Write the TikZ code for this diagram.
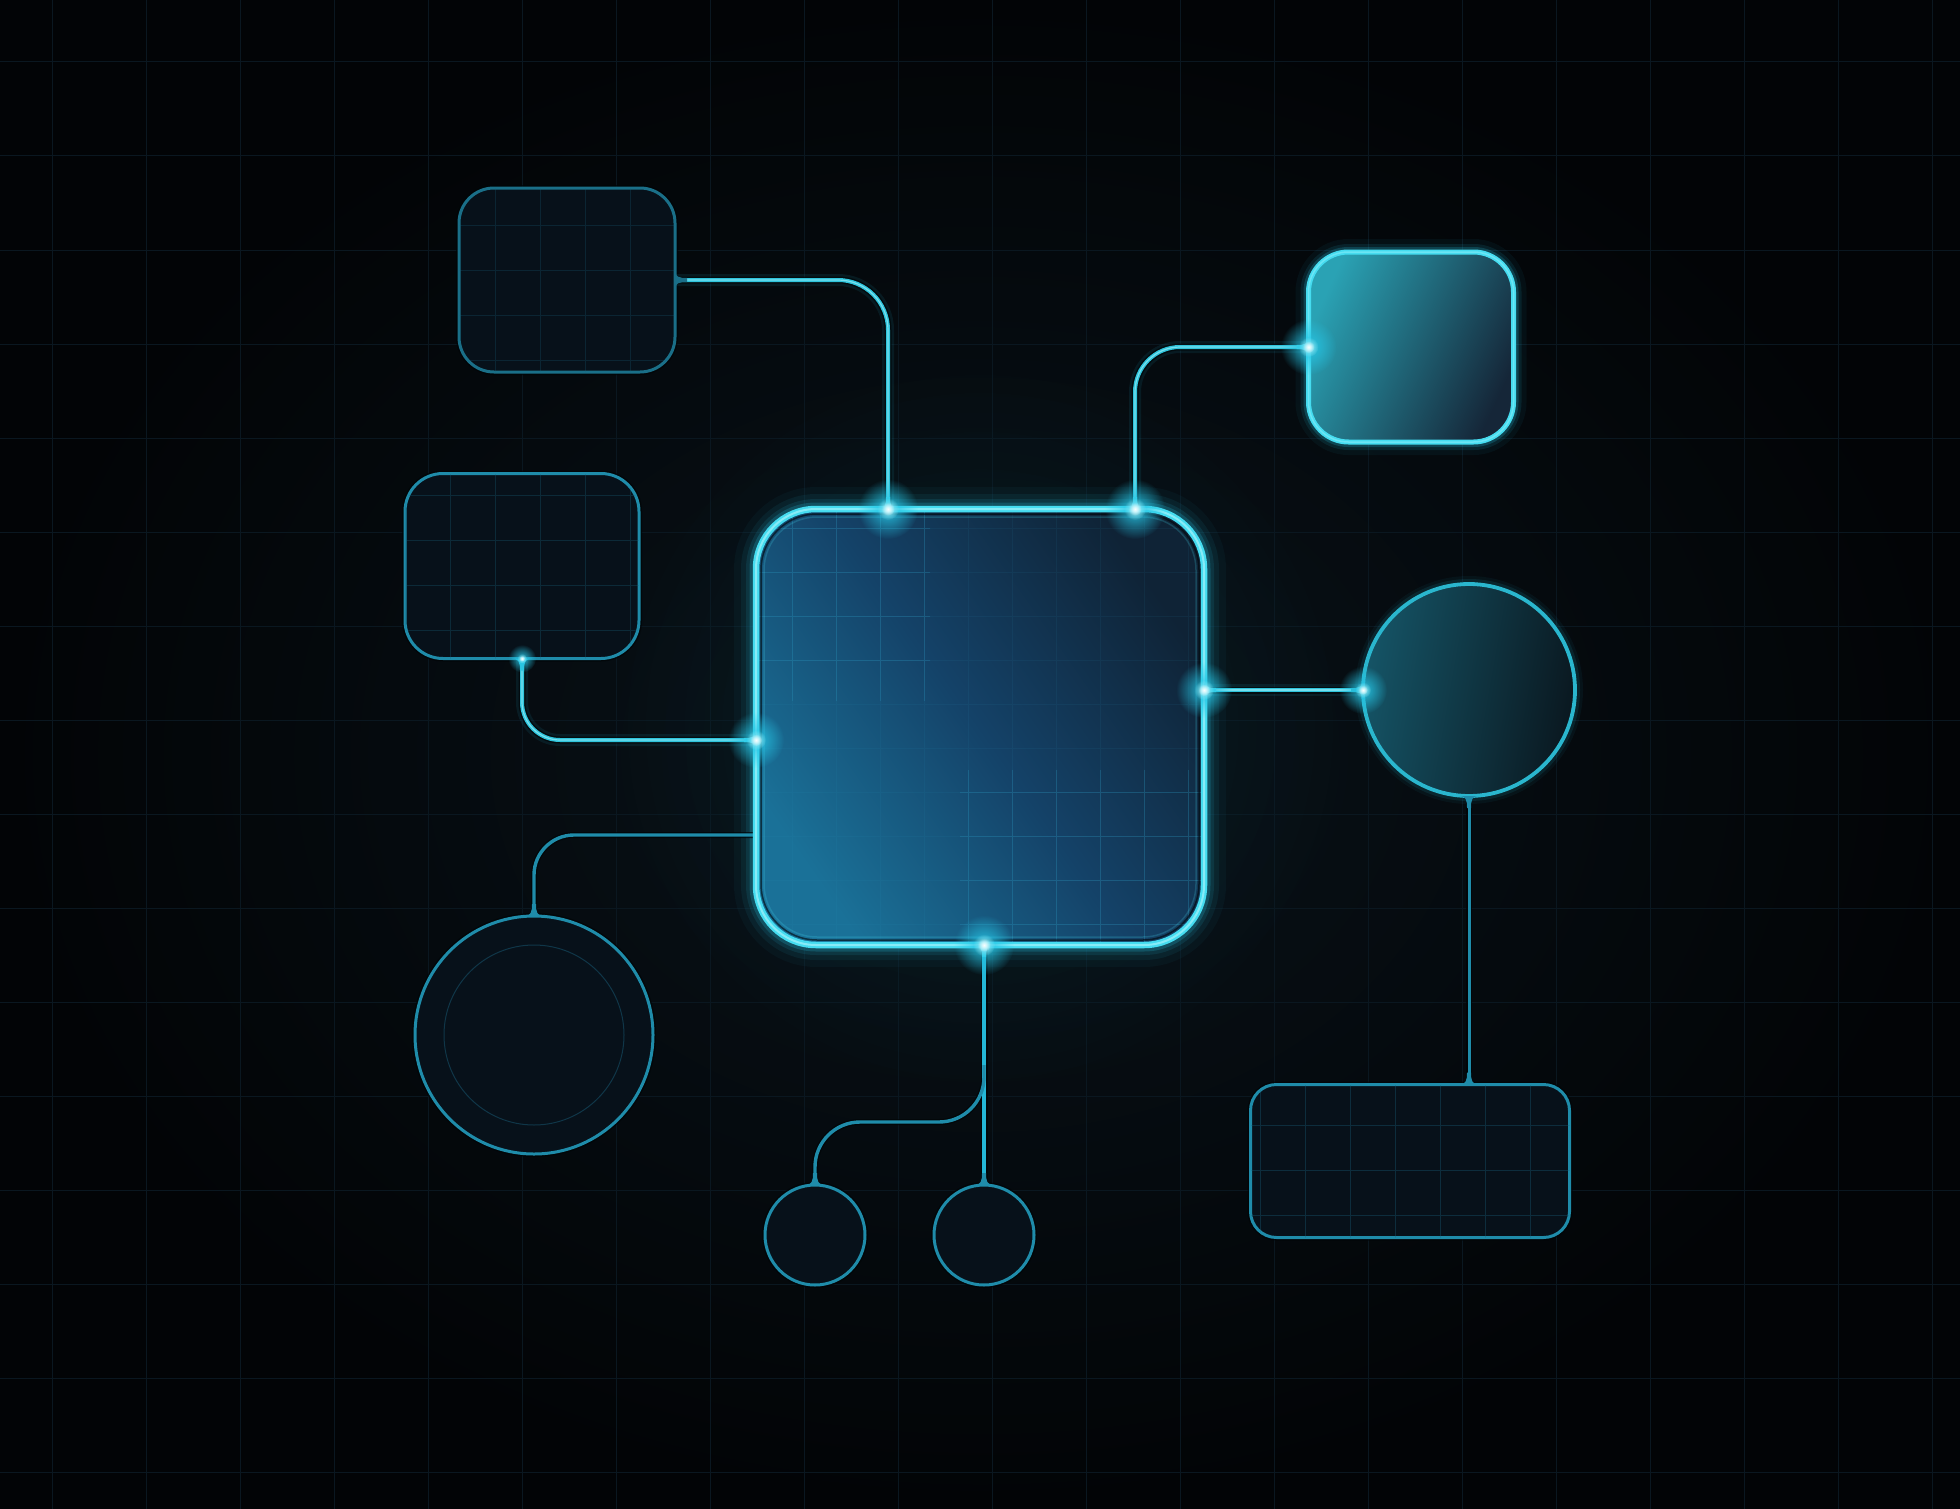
\documentclass[tikz,border=0pt]{standalone}
\usetikzlibrary{fadings,calc}
\tikzfading[name=glowfade, inner color=transparent!0, outer color=transparent!100]
\pgfdeclarelayer{back}
\pgfdeclarelayer{lines}
\pgfdeclarelayer{front}
\pgfsetlayers{back,lines,main,front}
\definecolor{bgout}{HTML}{020406}
\definecolor{bgin}{HTML}{09131A}
\definecolor{gridc}{HTML}{0A1720}
\definecolor{glowc}{HTML}{26C6E6}
\definecolor{brite}{HTML}{45DCF0}
\definecolor{core}{HTML}{B4F6FC}
\definecolor{conn}{HTML}{2EC4DC}
\definecolor{dimb}{HTML}{1A6F88}
\definecolor{midb}{HTML}{1F8CAA}
\definecolor{outl}{HTML}{010507}
\definecolor{boxfill}{HTML}{07111A}
\definecolor{igrid}{HTML}{1A6480}
\definecolor{cgrid}{HTML}{2E9CC4}
\definecolor{cdark}{HTML}{0F2336}
\definecolor{cmid}{HTML}{144268}
\definecolor{clight}{HTML}{1A7198}
\definecolor{tlight}{HTML}{2AA2B4}
\definecolor{tdark}{HTML}{152638}
\definecolor{rlight}{HTML}{155466}
\definecolor{rdark}{HTML}{0A1820}
\definecolor{rborder}{HTML}{2AB6CE}
\tikzset{
  shapebase/.style={inner sep=0pt, outer sep=0pt},
  dimbox/.style={shapebase, rectangle, draw=midb, line width=3pt, fill=boxfill},
  dimcirc/.style={shapebase, circle, draw=midb, line width=3pt, fill=boxfill},
  conline/.style={conn, line width=4pt},
  concore/.style={core, line width=1.2pt, opacity=0.55},
  outline/.style={outl, line width=7pt, opacity=0.7},
  farline/.style={midb, line width=3pt},
  lineglow/.style={glowc, line width=12pt, opacity=0.09},
}
\newcommand{\jflare}[3]{%
  \begin{scope}[shift={(#1)}, rotate=#2]
    \fill[#3] (-10,0) .. controls (-3,0) and (-2,-4) .. (-2,-12) -- (2,-12) .. controls (2,-4) and (3,0) .. (10,0) -- cycle;
  \end{scope}}
\newcommand{\jglow}[3]{%
  \fill[glowc, path fading=glowfade, opacity=0.95] (#1) circle (#2pt);
  \fill[core, path fading=glowfade, opacity=0.9] (#1) circle (#3pt);
  \fill[white, path fading=glowfade, opacity=0.9] (#1) circle (#3pt*0.6);}
\begin{document}
\begin{tikzpicture}[x=1pt,y=-1pt]
\useasboundingbox (0,0) rectangle (1960,1509);

% ---------- nodes ----------
\node[shapebase, rectangle, rounded corners=60pt, minimum width=448pt, minimum height=436pt,
      top color=cdark, bottom color=clight, middle color=cmid, shading angle=-55] (c) at (980,727) {};
\node[dimbox, draw=dimb, rounded corners=35pt, minimum width=216pt, minimum height=184pt] (tl) at (567,280) {};
\node[shapebase, rectangle, rounded corners=40pt, minimum width=205pt, minimum height=190pt,
      top color=tdark, bottom color=tlight, shading angle=-115] (tr) at (1411,347) {};
\node[dimbox, rounded corners=38pt, minimum width=234pt, minimum height=185pt] (ml) at (522,566) {};
\node[shapebase, circle, minimum size=212pt, top color=rdark, bottom color=rlight, shading angle=-100] (r) at (1469,690) {};
\node[dimcirc, minimum size=238pt] (bl) at (534,1035) {};
\node[dimcirc, minimum size=100pt] (s1) at (815,1235) {};
\node[dimcirc, minimum size=100pt] (s2) at (984,1235) {};
\node[dimbox, rounded corners=26pt, minimum width=319pt, minimum height=153pt] (br) at (1410,1161) {};

% ---------- background ----------
\begin{pgfonlayer}{back}
  \shade[inner color=bgin, outer color=bgout] (0,0) rectangle (1960,1509);
  \begin{scope}[shift={(52,62)}]
    \draw[gridc, line width=1pt, step=94pt] (-52,-62) grid (1908,1447);
  \end{scope}
  \fill[glowc, opacity=0.08, path fading=glowfade] (c) circle (380pt);
  \foreach \w/\o in {44/0.04,30/0.07,20/0.11,13/0.2}
    \draw[glowc, line width=\w pt, opacity=\o, rounded corners=60pt] (c.north west) rectangle (c.south east);
  \foreach \w/\o in {26/0.05,16/0.10,10/0.2}
    \draw[glowc, line width=\w pt, opacity=\o, rounded corners=40pt] (tr.north west) rectangle (tr.south east);
  \foreach \w/\o in {16/0.05,10/0.1}
    \draw[glowc, line width=\w pt, opacity=\o] (r) circle (106pt);
  \foreach \n/\rc in {tl/35, ml/38, br/26}
    \draw[outl, line width=6pt, opacity=0.7, rounded corners=\rc pt] (\n.north west) rectangle (\n.south east);
  \foreach \n/\rr in {bl/119, s1/50, s2/50}
    \draw[outl, line width=6pt, opacity=0.7] (\n) circle (\rr pt);
\end{pgfonlayer}

% ---------- inner grids ----------
\begin{scope}
  \clip[rounded corners=60pt] (c.north west) rectangle (c.south east);
  \draw[cgrid, opacity=0.08, line width=1pt, step=44pt] (c.north west) grid (c.south east);
  \begin{scope}
    \clip (756,509) rectangle (930,700);
    \draw[cgrid, opacity=0.25, line width=1pt, step=44pt] (c.north west) grid (c.south east);
  \end{scope}
  \begin{scope}
    \clip (960,770) rectangle (1204,945);
    \draw[cgrid, opacity=0.25, line width=1pt, step=44pt] (c.north west) grid (c.south east);
  \end{scope}
\end{scope}
\foreach \n/\rc/\op in {tl/35/0.25, ml/38/0.3, br/26/0.35} {
  \begin{scope}
    \clip[rounded corners=\rc pt] (\n.north west) rectangle (\n.south east);
    \draw[igrid, opacity=\op, line width=0.9pt, step=45pt] (\n.north west) grid (\n.south east);
  \end{scope}
}
\draw[igrid, opacity=0.45, line width=1pt] (bl) circle (90pt);

% ---------- borders ----------
\draw[outl, opacity=0.6, line width=1.5pt, rounded corners=56pt] ($(c.north west)+(5,5)$) rectangle ($(c.south east)+(-5,-5)$);
\draw[brite, line width=6.5pt, rounded corners=60pt] (c.north west) rectangle (c.south east);
\draw[core, opacity=0.6, line width=2pt, rounded corners=60pt] (c.north west) rectangle (c.south east);
\draw[brite, opacity=0.2, line width=1.5pt, rounded corners=53pt] ($(c.north west)+(8,8)$) rectangle ($(c.south east)+(-8,-8)$);
\draw[brite, line width=5pt, rounded corners=40pt] (tr.north west) rectangle (tr.south east);
\draw[core, opacity=0.35, line width=1.5pt, rounded corners=40pt] (tr.north west) rectangle (tr.south east);
\draw[rborder, line width=3.8pt] (r) circle (106pt);

% ---------- connectors ----------
\begin{pgfonlayer}{lines}
  \draw[lineglow, rounded corners=50pt] ($(c.north west)+(132,0)$) |- (tl.east);
  \draw[lineglow, rounded corners=45pt] ($(c.north west)+(379,0)$) |- (tr.west);
  \draw[lineglow] ($(c.north east)+(0,181)$) -- (r.west);
  \draw[lineglow, rounded corners=38pt] ($(c.north west)+(0,231)$) -| (ml.south);

  \draw[outline, rounded corners=50pt] ($(c.north west)+(132,0)$) |- (tl.east);
  \draw[outline, rounded corners=45pt] ($(c.north west)+(379,0)$) |- (tr.west);
  \draw[outline] ($(c.north east)+(0,181)$) -- (r.west);
  \draw[outline, rounded corners=38pt] ($(c.north west)+(0,231)$) -| (ml.south);
  \draw[outline, line width=6pt, rounded corners=40pt] ($(c.north west)+(0,326)$) -| (bl.north);
  \draw[outline] ($(c.south west)+(228,0)$) -- (s2.north);
  \draw[outline, line width=6pt, rounded corners=45pt] ($(c.south west)+(228,120)$) |- ($(s1.north)+(0,-63)$) -- (s1.north);
  \draw[outline, line width=6pt] (r.south) -- (r.south |- br.north);

  \draw[conline, rounded corners=50pt] ($(c.north west)+(132,0)$) |- (tl.east);
  \draw[conline, rounded corners=45pt] ($(c.north west)+(379,0)$) |- (tr.west);
  \draw[conline] ($(c.north east)+(0,181)$) -- (r.west);
  \draw[conline, rounded corners=38pt] ($(c.north west)+(0,231)$) -| (ml.south);
  \draw[farline, line width=3.4pt, rounded corners=40pt] ($(c.north west)+(0,326)$) -| (bl.north);
  \draw[conline, line width=3.6pt, color=glowc!75!midb] ($(c.south west)+(228,0)$) -- (s2.north);
  \draw[farline, line width=3.4pt, rounded corners=45pt] ($(c.south west)+(228,120)$) |- ($(s1.north)+(0,-63)$) -- (s1.north);
  \draw[farline] (r.south) -- (r.south |- br.north);

  \draw[concore, rounded corners=50pt] ($(c.north west)+(132,0)$) |- (tl.east);
  \draw[concore, rounded corners=45pt] ($(c.north west)+(379,0)$) |- (tr.west);
  \draw[concore] ($(c.north east)+(0,181)$) -- (r.west);
  \draw[concore, rounded corners=38pt] ($(c.north west)+(0,231)$) -| (ml.south);
\end{pgfonlayer}

% ---------- junction flares and glows ----------
\begin{pgfonlayer}{front}
  \coordinate (j1) at ($(c.north west)+(132,0)$);
  \coordinate (j2) at ($(c.north west)+(379,0)$);
  \coordinate (j3) at ($(c.north east)+(0,181)$);
  \coordinate (j4) at ($(c.north west)+(0,231)$);
  \coordinate (j6) at ($(c.south west)+(228,0)$);
  \coordinate (j7) at (r.south |- br.north);
  \jflare{j1}{0}{brite}
  \jflare{j2}{0}{brite}
  \jflare{j3}{-90}{brite}
  \jflare{j4}{90}{brite}
  \jflare{j6}{180}{brite}
  \jflare{tr.west}{90}{brite}
  \jflare{r.west}{90}{rborder}
  \jflare{ml.south}{180}{conn}
  \jflare{tl.east}{-90}{dimb}
  \jflare{bl.north}{0}{midb}
  \jflare{s1.north}{0}{midb}
  \jflare{s2.north}{0}{midb}
  \jflare{j7}{0}{midb}
  \jflare{r.south}{180}{midb}
  \jglow{j1}{30}{11}
  \jglow{j2}{30}{11}
  \jglow{j3}{28}{10}
  \jglow{j4}{28}{10}
  \jglow{j6}{30}{11}
  \jglow{tr.west}{28}{10}
  \jglow{r.west}{24}{8}
  \jglow{ml.south}{14}{5}
\end{pgfonlayer}
\end{tikzpicture}
\end{document}
